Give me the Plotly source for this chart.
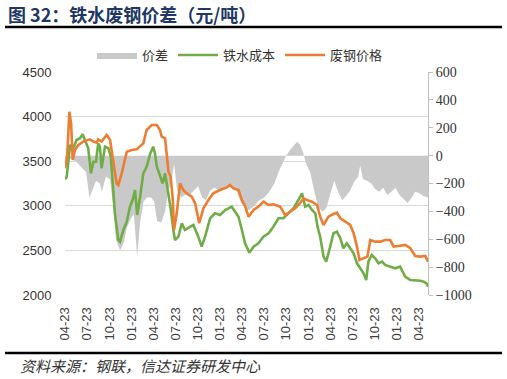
import plotly.graph_objects as go

W, H = 507, 379

# ---------------- data ----------------
scrap_dates = ["2021-04-23","2021-05-02","2021-05-11","2021-05-18","2021-05-25","2021-06-03","2021-06-17","2021-07-07",
               "2021-08-04","2021-08-18","2021-09-01","2021-09-07","2021-09-21","2021-10-12","2021-10-26","2021-11-08",
               "2021-11-22","2021-11-29","2021-12-13","2022-01-03","2022-01-23","2022-02-13","2022-02-27","2022-03-12",
               "2022-03-26","2022-04-16","2022-05-07","2022-05-20","2022-05-27","2022-06-10","2022-06-24","2022-07-03",
               "2022-07-12","2022-07-17","2022-07-28","2022-08-11","2022-08-24","2022-09-07","2022-09-28","2022-10-12",
               "2022-10-29","2022-11-15","2022-12-06","2022-12-26","2023-01-23","2023-02-20","2023-03-05","2023-03-19",
               "2023-04-09","2023-04-23","2023-05-06","2023-05-20","2023-06-10","2023-06-30","2023-07-21","2023-08-11",
               "2023-08-31","2023-09-28","2023-10-18","2023-11-08","2023-11-29","2023-12-19","2024-01-02","2024-01-16",
               "2024-02-06","2024-02-27","2024-03-11","2024-03-25","2024-04-14","2024-05-05","2024-05-19","2024-06-02",
               "2024-06-22","2024-07-13","2024-07-27","2024-08-10","2024-08-20","2024-09-06","2024-09-22","2024-10-04",
               "2024-10-24","2024-11-14","2024-12-04","2024-12-25","2025-01-08","2025-01-28","2025-02-25","2025-03-18",
               "2025-04-07","2025-04-28","2025-05-19","2025-05-30"]
scrap_price = [3420,3550,4055,3928,3514,3625,3682,3720,
               3745,3720,3708,3745,3720,3794,3738,3514,
               3252,3233,3364,3607,3626,3633,3663,3700,
               3850,3906,3906,3850,3775,3757,3382,3326,
               3065,2729,2916,3252,3177,3140,3102,3028,
               2804,2972,3065,3140,3177,3207,3233,3196,
               3177,3065,3000,2878,2953,2990,3046,3009,
               3017,2990,2897,2934,2972,3028,3084,3065,
               3046,3009,2878,2785,2878,2908,2923,2860,
               2822,2785,2692,2542,2393,2412,2430,2617,
               2598,2598,2617,2617,2542,2550,2561,2524,
               2438,2430,2438,2374]

iron_dates = ["2021-04-23","2021-04-30","2021-05-06","2021-05-14","2021-05-27","2021-06-10","2021-06-24","2021-07-05",
              "2021-07-14","2021-07-28","2021-08-08","2021-08-18","2021-08-29","2021-09-07","2021-09-14","2021-09-21",
              "2021-10-05","2021-10-19","2021-10-29","2021-11-08","2021-11-15","2021-11-29","2021-12-06","2021-12-20",
              "2022-01-03","2022-01-16","2022-01-27","2022-02-06","2022-02-15","2022-02-27","2022-03-12","2022-03-26",
              "2022-04-09","2022-04-22","2022-04-29","2022-05-07","2022-05-20","2022-05-31","2022-06-10","2022-06-24",
              "2022-07-03","2022-07-14","2022-07-21","2022-08-04","2022-08-18","2022-08-31","2022-09-13","2022-10-05",
              "2022-10-25","2022-11-08","2022-11-22","2022-12-13","2023-01-02","2023-01-23","2023-02-13","2023-03-12",
              "2023-03-26","2023-04-09","2023-04-23","2023-05-06","2023-05-24","2023-06-10","2023-06-30","2023-07-21",
              "2023-08-11","2023-08-31","2023-09-21","2023-10-11","2023-11-01","2023-11-22","2023-12-12","2023-12-27",
              "2024-01-09","2024-01-23","2024-02-06","2024-02-20","2024-02-29","2024-03-11","2024-03-25","2024-04-05",
              "2024-04-18","2024-05-05","2024-05-19","2024-06-02","2024-06-15","2024-06-29","2024-07-13","2024-07-27",
              "2024-08-10","2024-08-23","2024-09-06","2024-09-17","2024-09-26","2024-10-10","2024-10-24","2024-11-07",
              "2024-11-21","2024-12-04","2024-12-25","2025-01-15","2025-02-04","2025-02-25","2025-03-18","2025-04-07",
              "2025-04-28","2025-05-12","2025-05-24","2025-05-30"]
iron_cost = [3297,3326,3476,3682,3645,3738,3757,3802,
             3738,3645,3364,3494,3494,3700,3663,3420,
             3663,3645,3550,3214,2916,2617,2598,2729,
             2822,2990,3065,3177,2897,3102,3364,3438,
             3580,3663,3588,3438,3326,3252,3364,3140,
             2972,2729,2617,2654,2804,2729,2748,2785,
             2654,2542,2654,2860,2916,2897,2953,2990,
             2934,2878,2729,2580,2475,2542,2580,2654,
             2692,2766,2860,2860,2916,2972,3065,3140,
             2990,3009,2953,2916,2766,2654,2430,2374,
             2505,2692,2710,2636,2524,2580,2524,2468,
             2355,2299,2243,2168,2374,2449,2412,2355,
             2374,2337,2318,2299,2318,2206,2168,2168,
             2160,2150,2131,2093]

spread_dates = ["2021-04-23","2021-05-14","2021-06-07","2021-06-28","2021-07-19","2021-08-02","2021-08-13","2021-08-29",
                "2021-09-14","2021-09-22","2021-10-09","2021-10-26","2021-11-07","2021-11-19","2021-12-06","2021-12-22",
                "2022-01-03","2022-01-20","2022-02-01","2022-02-15","2022-02-27","2022-03-13","2022-03-28","2022-04-13",
                "2022-04-26","2022-05-08","2022-05-25","2022-06-10","2022-06-23","2022-07-05","2022-07-17","2022-07-30",
                "2022-08-15","2022-08-31","2022-09-20","2022-10-07","2022-10-24","2022-11-10","2022-11-26","2022-12-13",
                "2022-12-30","2023-01-23","2023-02-17","2023-03-13","2023-04-03","2023-04-20","2023-05-06","2023-05-23",
                "2023-06-13","2023-07-04","2023-07-24","2023-08-14","2023-09-04","2023-09-21","2023-10-08","2023-10-22",
                "2023-11-08","2023-11-24","2023-12-07","2023-12-19","2024-01-01","2024-01-13","2024-01-30","2024-02-15",
                "2024-03-03","2024-03-20","2024-04-05","2024-04-21","2024-05-08","2024-05-24","2024-06-10","2024-06-26",
                "2024-07-13","2024-07-29","2024-08-15","2024-08-23","2024-09-04","2024-09-21","2024-10-08","2024-10-24",
                "2024-11-10","2024-11-26","2024-12-13","2024-12-30","2025-01-15","2025-02-01","2025-02-18","2025-03-07",
                "2025-03-24","2025-04-07","2025-04-24","2025-05-11","2025-05-30"]
spread = [-30,-20,-40,-80,-120,-300,-250,-180,
          -200,-260,-150,-170,-350,-600,-680,-620,
          -520,-450,-420,-720,-480,-330,-300,-300,
          -330,-470,-480,-400,-250,-200,-60,-250,
          -300,-280,-280,-250,-220,-300,-320,-250,
          -230,-250,-230,-220,-260,-340,-380,-390,
          -360,-320,-300,-260,-200,-120,-50,0,
          40,70,100,80,20,-60,-120,-250,
          -370,-400,-380,-280,-180,-260,-320,-290,
          -250,-190,-150,-70,-170,-180,-200,-240,
          -260,-230,-280,-260,-230,-280,-310,-340,
          -300,-260,-270,-290,-300]

tick_dates = ["2021-04-23","2021-07-23","2021-10-23","2022-01-23","2022-04-23","2022-07-23","2022-10-23",
              "2023-01-23","2023-04-23","2023-07-23","2023-10-23","2024-01-23","2024-04-23","2024-07-23",
              "2024-10-23","2025-01-23","2025-04-23"]
tick_labels = ["04-23","07-23","10-23","01-23","04-23","07-23","10-23","01-23","04-23",
               "07-23","10-23","01-23","04-23","07-23","10-23","01-23","04-23"]

assert len(scrap_dates) == len(scrap_price)
assert len(iron_dates) == len(iron_cost)
assert len(spread_dates) == len(spread)

GRAY = "#c9c9c9"
GREEN = "#70AD47"
ORANGE = "#ED7D31"

fig = go.Figure()
# spread on base axis (right side) so it is drawn beneath the lines
fig.add_trace(go.Scatter(x=spread_dates, y=spread, name="价差", yaxis="y", mode="lines",
                         fill="tozeroy", fillcolor=GRAY, line=dict(width=0, color=GRAY)))
fig.add_trace(go.Scatter(x=iron_dates, y=iron_cost, name="铁水成本", yaxis="y2", mode="lines",
                         line=dict(color=GREEN, width=2.6)))
fig.add_trace(go.Scatter(x=scrap_dates, y=scrap_price, name="废钢价格", yaxis="y2", mode="lines",
                         line=dict(color=ORANGE, width=2.6)))

x0, x1 = 65 / W, 428 / W
yb, yt = 1 - 295 / H, 1 - 72 / H

fig.update_layout(
    width=W, height=H, autosize=False,
    margin=dict(l=0, r=0, t=0, b=0, autoexpand=False),
    paper_bgcolor="white", plot_bgcolor="white",
    showlegend=True,
    legend=dict(orientation="h", x=92 / W, y=1 - 55 / H, xanchor="left", yanchor="middle",
                font=dict(family="Noto Sans CJK SC", size=13, color="#333333"),
                bgcolor="rgba(0,0,0,0)", itemwidth=40, traceorder="normal"),
    xaxis=dict(domain=[x0, x1], anchor="y", type="date", automargin=False,
               range=["2021-04-23", "2025-05-30"],
               tickmode="array", tickvals=tick_dates, ticktext=tick_labels, tickangle=-90,
               tickfont=dict(family="Liberation Sans", size=13, color="#404040"),
               ticks="outside", ticklen=6, tickcolor="rgba(0,0,0,0)",
               showgrid=False, showline=False, zeroline=False),
    yaxis=dict(domain=[yb, yt], anchor="x", side="right", range=[-1000, 600], dtick=200, automargin=False,
               tickfont=dict(family="Liberation Serif", size=14, color="#333333"),
               showgrid=False, zeroline=False, showline=True, linecolor="#bfbfbf", linewidth=1,
               ticks="outside", ticklen=4, tickcolor="#bfbfbf"),
    yaxis2=dict(overlaying="y", anchor="x", side="left", range=[2000, 4500], dtick=500, automargin=False,
                tickfont=dict(family="Liberation Sans", size=13, color="#333333"),
                showgrid=True, gridcolor="#d9d9d9", gridwidth=1, zeroline=False, showline=False,
                ticks="outside", ticklen=10, tickcolor="rgba(0,0,0,0)"),
)

fig.add_annotation(text="图 32：铁水废钢价差（元/吨）", xref="paper", yref="paper",
                   x=6 / W, y=1 - 14 / H, xanchor="left", yanchor="middle", showarrow=False,
                   font=dict(family="Noto Sans CJK SC", size=18, color="#1F3864", weight="bold"))
fig.add_annotation(text="资料来源：钢联，信达证券研发中心", xref="paper", yref="paper",
                   x=18 / W, y=1 - 365 / H, xanchor="left", yanchor="middle", showarrow=False,
                   font=dict(family="Noto Sans CJK SC", size=15, color="#333333", style="italic"))

fig.add_shape(type="line", xref="paper", yref="paper", x0=5 / W, x1=502 / W,
              y0=1 - 27 / H, y1=1 - 27 / H, line=dict(color="black", width=2.5))
fig.add_shape(type="line", xref="paper", yref="paper", x0=5 / W, x1=502 / W,
              y0=1 - 353 / H, y1=1 - 353 / H, line=dict(color="black", width=2.5))

fig.write_html("out.html",
               config={"displayModeBar": False, "staticPlot": True},
               post_script="document.body.style.margin='0px';document.body.style.padding='0px';"
                           "document.documentElement.style.overflow='hidden';")
